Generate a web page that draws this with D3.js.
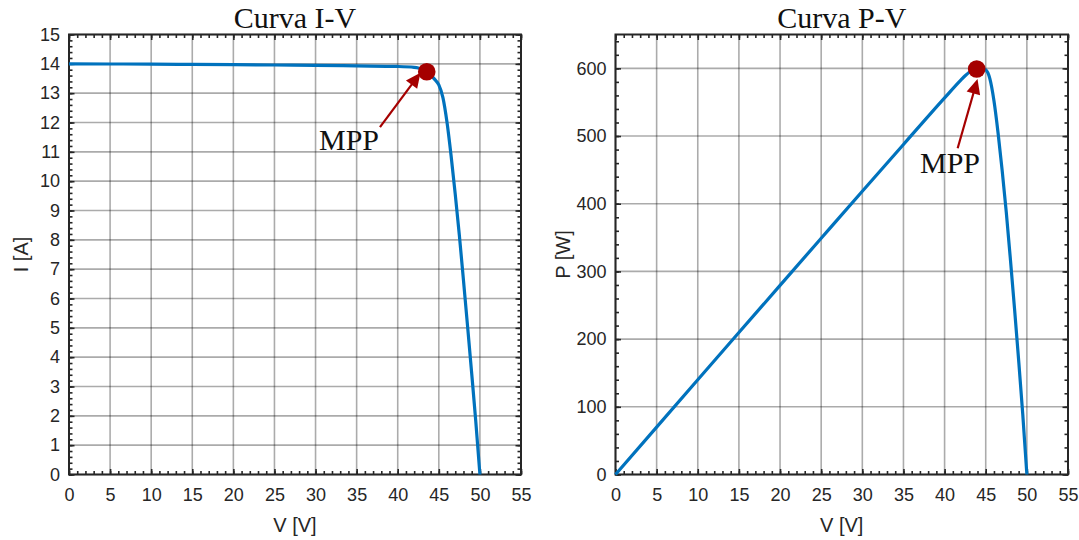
<!DOCTYPE html>
<html><head><meta charset="utf-8">
<script src="https://cdn.jsdelivr.net/npm/d3@7"></script>
<style>
html,body{margin:0;padding:0;background:#fff;}
svg{display:block;}
</style></head><body>
<svg id="chart" width="1079" height="540"></svg>
<script>
// ---- data ----
const voltage = [0,5,10,15,20,25,30,35,40,42,42.5,43,43.5,44,44.5,45,45.5,46,46.5,47,47.5,48,48.5,49,49.5,50];
const current = [14.00,13.995,13.99,13.98,13.97,13.96,13.95,13.93,13.91,13.88,13.86,13.82,13.74,13.62,13.47,13.28,12.85,12.00,10.85,9.55,8.15,6.62,5.05,3.45,1.80,0];
const power   = [0,69.98,139.9,209.7,279.4,349.0,418.5,487.6,556.4,583.0,589.1,594.3,597.7,599.3,599.4,597.6,584.7,552.0,504.5,448.9,387.1,317.8,244.9,169.1,89.1,0];
const vTicks = [0,5,10,15,20,25,30,35,40,45,50,55];
const iTicks = [0,1,2,3,4,5,6,7,8,9,10,11,12,13,14,15];
const pTicks = [0,100,200,300,400,500,600];
const titles = ["Curva I-V","Curva P-V"];
const yLabels = ["I [A]","P [W]"];
const xLabel = "V [V]";
// MPP marker and annotation (data coordinates)
const mppIV = {v:43.53, y:13.73, textV:34.07, textY:11.06, tailV:37.84, tailY:11.84, tipV:42.77, tipY:13.70};
const mppPV = {v:43.90, y:599.0, textV:40.66, textY:445.0, tailV:41.59, tailY:481.9, tipV:44.0, tipY:584.3};

const svg = d3.select("#chart");
svg.append("rect").attr("width",1079).attr("height",540).attr("fill","#fff");

const AX = "#262626";
const SANS = "'Liberation Sans', Arial, Helvetica, sans-serif";
const SERIF = "'Liberation Serif', 'Times New Roman', serif";
const BLUE = "#0072BD";
const RED = "#A50000";

function panel(cfg){
  const top = 34.5, bottom = 474.5;
  const x = d3.scaleLinear().domain([0,55]).range([cfg.left, cfg.right]);
  const y = d3.scaleLinear().domain([0,cfg.ymax]).range([bottom, top]);
  const g = svg.append("g");

  // grid
  g.append("g").selectAll("line").data(vTicks).join("line")
    .attr("x1",d=>x(d)).attr("x2",d=>x(d)).attr("y1",top).attr("y2",bottom)
    .attr("stroke","#000").attr("stroke-opacity",0.33).attr("stroke-width",1.6);
  g.append("g").selectAll("line").data(cfg.yTicks).join("line")
    .attr("y1",d=>y(d)).attr("y2",d=>y(d)).attr("x1",cfg.left).attr("x2",cfg.right)
    .attr("stroke","#000").attr("stroke-opacity",0.33).attr("stroke-width",1.6);

  // tick marks (inward, all four sides)
  const minorX = d3.range(0,55.001,1);
  const minorY = d3.range(0,cfg.ymax+1e-6,cfg.minorStep);
  const tickStyle = sel => { sel.select(".domain").remove(); sel.selectAll("line").attr("stroke",AX).attr("stroke-width",1.6); sel.selectAll("text").remove(); };
  const mk = (axis, tr) => g.append("g").attr("transform",tr).call(axis).call(tickStyle);
  mk(d3.axisBottom(x).tickValues(minorX).tickSize(-3.5).tickFormat(""), `translate(0,${bottom})`);
  mk(d3.axisBottom(x).tickValues(vTicks).tickSize(-5.5).tickFormat(""), `translate(0,${bottom})`);
  mk(d3.axisTop(x).tickValues(minorX).tickSize(-3.5).tickFormat(""), `translate(0,${top})`);
  mk(d3.axisTop(x).tickValues(vTicks).tickSize(-5.5).tickFormat(""), `translate(0,${top})`);
  mk(d3.axisLeft(y).tickValues(minorY).tickSize(-3.5).tickFormat(""), `translate(${cfg.left},0)`);
  mk(d3.axisLeft(y).tickValues(cfg.yTicks).tickSize(-5.5).tickFormat(""), `translate(${cfg.left},0)`);
  mk(d3.axisRight(y).tickValues(minorY).tickSize(-3.5).tickFormat(""), `translate(${cfg.right},0)`);
  mk(d3.axisRight(y).tickValues(cfg.yTicks).tickSize(-5.5).tickFormat(""), `translate(${cfg.right},0)`);

  // box
  g.append("rect").attr("x",cfg.left).attr("y",top).attr("width",cfg.right-cfg.left).attr("height",bottom-top)
    .attr("fill","none").attr("stroke",AX).attr("stroke-width",2);

  // tick labels
  const xa = g.append("g").attr("transform",`translate(0,${bottom})`)
    .call(d3.axisBottom(x).tickValues(vTicks).tickSize(0).tickPadding(14));
  xa.select(".domain").remove();
  xa.selectAll("text").attr("font-family",SANS).attr("font-size",18).attr("fill",AX);
  const ya = g.append("g").attr("transform",`translate(${cfg.left},0)`)
    .call(d3.axisLeft(y).tickValues(cfg.yTicks).tickSize(0).tickPadding(9));
  ya.select(".domain").remove();
  ya.selectAll("text").attr("font-family",SANS).attr("font-size",18).attr("fill",AX);

  // axis labels
  g.append("text").attr("x",(cfg.left+cfg.right)/2).attr("y",532).attr("text-anchor","middle")
    .attr("font-family",SANS).attr("font-size",20).attr("fill",AX).text(xLabel);
  g.append("text").attr("transform",`translate(${cfg.ylabelX},${(top+bottom)/2}) rotate(-90)`)
    .attr("text-anchor","middle").attr("font-family",SANS).attr("font-size",20).attr("fill",AX).text(cfg.ylabel);

  // title
  g.append("text").attr("x",(cfg.left+cfg.right)/2).attr("y",28).attr("text-anchor","middle")
    .attr("font-family",SERIF).attr("font-size",30).attr("fill","#111").text(cfg.title);

  // curve
  const line = d3.line().x(d=>x(d[0])).y(d=>y(d[1])).curve(d3.curveMonotoneX);
  g.append("path").datum(voltage.map((v,i)=>[v,cfg.values[i]])).attr("d",line)
    .attr("fill","none").attr("stroke",BLUE).attr("stroke-width",3.2).attr("stroke-linejoin","round");

  // MPP marker
  const m = cfg.mpp;
  g.append("circle").attr("cx",x(m.v)).attr("cy",y(m.y)).attr("r",8.8).attr("fill",RED);

  // arrow
  const tx = x(m.tailV), ty = y(m.tailY), hx = x(m.tipV), hy = y(m.tipY);
  const dx = hx-tx, dy = hy-ty, L = Math.hypot(dx,dy), ux = dx/L, uy = dy/L;
  const hl = 15, hw = 7;
  const bx = hx-ux*hl, by = hy-uy*hl;
  g.append("line").attr("x1",tx).attr("y1",ty).attr("x2",bx+ux*2).attr("y2",by+uy*2)
    .attr("stroke",RED).attr("stroke-width",2.2);
  g.append("path").attr("d",`M${hx},${hy}L${bx-uy*hw},${by+ux*hw}L${bx+uy*hw},${by-ux*hw}Z`).attr("fill",RED);
  g.append("text").attr("x",x(m.textV)).attr("y",y(m.textY)).attr("text-anchor","middle")
    .attr("font-family",SERIF).attr("font-size",30).attr("fill","#111").text("MPP");
}

panel({left:69, right:521, ymax:15, yTicks:iTicks, minorStep:0.2, values:current, mpp:mppIV, title:titles[0], ylabel:yLabels[0], ylabelX:28});
panel({left:615.5, right:1068, ymax:650, yTicks:pTicks, minorStep:20, values:power, mpp:mppPV, title:titles[1], ylabel:yLabels[1], ylabelX:570});
</script>
</body></html>
